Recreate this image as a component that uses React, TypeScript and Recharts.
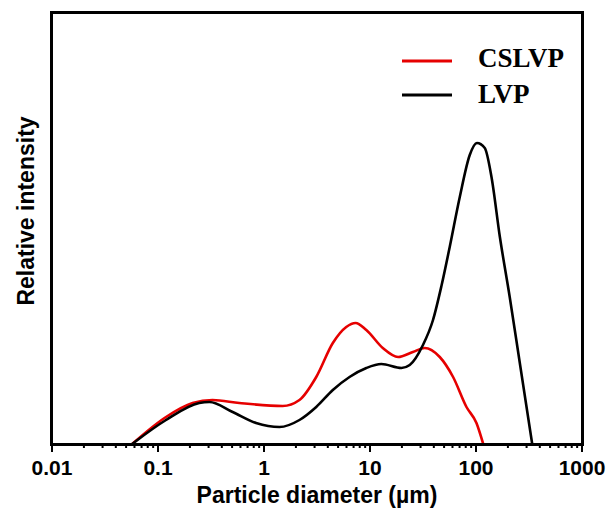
import { LineChart, Line, XAxis, YAxis, Legend } from 'recharts';

// particle size distribution, intensity (arbitrary units)
const lvpDiameter = [0.057, 0.119, 0.245, 0.305, 0.506, 0.842, 1.4, 2.16, 3.11, 4.46, 6.41, 9.23, 12.8, 19.8, 23.7, 31.6, 39.3, 47.2, 56.5, 70.3, 87.3, 102, 121, 140, 168, 208, 259, 339];
const lvpIntensity = [0, 24, 41, 42, 32, 21, 17, 24, 37, 54, 67, 76, 80, 76, 79, 99, 124, 158, 197, 247, 289, 301, 296, 267, 207, 147, 81, 0];

const cslvpDiameter = [0.057, 0.119, 0.212, 0.327, 0.585, 1.5, 2.16, 3.11, 4.46, 5.97, 7.31, 9.23, 13.2, 18.4, 25.4, 32.8, 45.5, 60.8, 81.3, 101, 117];
const cslvpIntensity = [0, 27, 41, 44, 41, 38, 44, 67, 101, 117, 121, 114, 96, 87, 92, 96, 87, 67, 37, 21, 0];

const majorTicks = [0.01, 0.1, 1, 10, 100, 1000];
const tickLabels = ['0.01', '0.1', '1', '10', '100', '1000'];
const minorSteps = [2, 3, 4, 5, 6, 7, 8, 9];
const yMax = 431;

const lvpData = lvpDiameter.map((d, i) => ({ d, v: lvpIntensity[i] }));
const cslvpData = cslvpDiameter.map((d, i) => ({ d, v: cslvpIntensity[i] }));

const allTicks: number[] = [];
majorTicks.forEach((m, i) => {
    allTicks.push(m);
    if (i < majorTicks.length - 1) minorSteps.forEach((s) => allTicks.push(+(m * s).toPrecision(3)));
});

const W = 609;
const H = 508;
const margin = { top: 13, right: 27, left: 0, bottom: 0 };
const yAxisWidth = 52;
const xAxisHeight = 64;

const SANS = '"Liberation Sans", Arial, sans-serif';
const SERIF = '"Liberation Serif", "Times New Roman", serif';

function DiameterTick(props: any) {
    const { x, y, payload } = props;
    const idx = majorTicks.findIndex((m) => Math.abs(m - payload.value) < m * 1e-6);
    const major = idx >= 0;
    return (
        <g>
            <line x1={x} x2={x} y1={y} y2={y + (major ? 8 : 4)} stroke="#000" strokeWidth={2} />
            {major && (
                <text x={x} y={y + 31} textAnchor="middle" fontFamily={SANS} fontWeight="bold" fontSize={21} fill="#000">
                    {tickLabels[idx]}
                </text>
            )}
        </g>
    );
}

function YTitle({ viewBox }: any) {
    const cx = (viewBox?.x ?? 0) + yAxisWidth / 2 + 8;
    const cy = 211;
    return (
        <text
            x={cx}
            y={cy}
            transform={`rotate(-90 ${cx} ${cy})`}
            textAnchor="middle"
            fontFamily={SANS}
            fontWeight="bold"
            fontSize={23}
            fill="#000"
        >
            Relative intensity
        </text>
    );
}

function LegendBox({ payload }: any) {
    return (
        <svg width={190} height={72}>
            {(payload || []).map((p: any, i: number) => (
                <g key={p.value}>
                    <line x1={2} x2={52} y1={21 + i * 34} y2={21 + i * 34} stroke={p.color} strokeWidth={3} />
                    <text x={78} y={27 + i * 35.5} fontFamily={SERIF} fontWeight="bold" fontSize={27} fill="#000">
                        {p.value}
                    </text>
                </g>
            ))}
        </svg>
    );
}

export default function App() {
    const plotLeft = margin.left + yAxisWidth;
    const plotTop = margin.top;
    const plotW = W - plotLeft - margin.right;
    const plotH = H - margin.top - margin.bottom - xAxisHeight;
    return (
        <div style={{ position: 'absolute', left: 0, top: 0, width: W, height: H, background: '#fff' }}>
            <LineChart width={W} height={H} margin={margin}>
                <XAxis
                    dataKey="d"
                    type="number"
                    scale="log"
                    domain={[0.01, 1000]}
                    allowDataOverflow
                    ticks={allTicks}
                    interval={0}
                    tickSize={0}
                    tickMargin={0}
                    axisLine={{ stroke: '#000', strokeWidth: 2 }}
                    tickLine={false}
                    tick={<DiameterTick />}
                    height={xAxisHeight}
                    label={{
                        value: 'Particle diameter (µm)',
                        position: 'insideBottom',
                        offset: 5,
                        style: { fontFamily: SANS, fontWeight: 'bold', fontSize: 23, fill: '#000' },
                    }}
                />
                <YAxis
                    type="number"
                    domain={[0, yMax]}
                    allowDataOverflow
                    width={yAxisWidth}
                    tick={false}
                    tickLine={false}
                    axisLine={{ stroke: '#000', strokeWidth: 2 }}
                    label={{ content: <YTitle /> }}
                />
                <Legend
                    layout="vertical"
                    align="center"
                    verticalAlign="middle"
                    content={<LegendBox />}
                    wrapperStyle={{ position: 'absolute', left: 400, top: 40, width: 190 }}
                />
                <Line data={cslvpData} dataKey="v" name="CSLVP" type="monotone" stroke="#e60000" strokeWidth={2.6} dot={false} isAnimationActive={false} />
                <Line data={lvpData} dataKey="v" name="LVP" type="monotone" stroke="#000" strokeWidth={2.6} dot={false} isAnimationActive={false} />
            </LineChart>
            {/* plot frame */}
            <div
                style={{
                    position: 'absolute',
                    zIndex: 5,
                    left: plotLeft - 2,
                    top: plotTop - 2,
                    width: plotW + 4,
                    height: plotH + 4,
                    border: '3px solid #000',
                    boxSizing: 'border-box',
                    pointerEvents: 'none',
                }}
            />
        </div>
    );
}
